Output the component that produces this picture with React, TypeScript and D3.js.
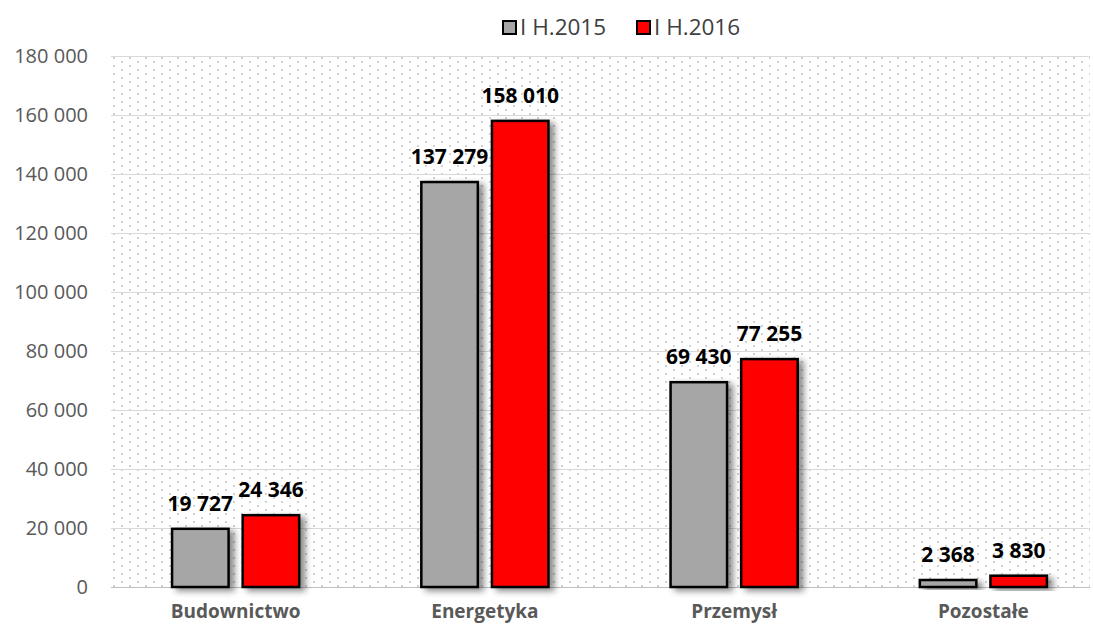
import React, { useRef, useEffect } from 'react';
import * as d3 from 'd3';

const categories = ['Budownictwo', 'Energetyka', 'Przemysł', 'Pozostałe'];
const seriesNames = ['I H.2015', 'I H.2016'];
const values2015 = [19727, 137279, 69430, 2368];
const values2016 = [24346, 158010, 77255, 3830];
const yTicks = [0, 20000, 40000, 60000, 80000, 100000, 120000, 140000, 160000, 180000];
const colors = ['#a6a6a6', '#ff0000'];

const W = 1094;
const H = 628;
const FONT = '"Open Sans", "Noto Sans", sans-serif';

const Chart: React.FC = () => {
  const svgRef = useRef<SVGSVGElement | null>(null);

  useEffect(() => {
    const svg = d3.select(svgRef.current);
    svg.selectAll('*').remove();

    const fmt = d3.formatLocale({ decimal: ',', thousands: ' ', grouping: [3], currency: ['', ''] }).format(',d');

    const plotLeft = 111;
    const plotRight = 1090;
    const y = d3.scaleLinear().domain([0, 180000]).range([587, 56]);
    const x0 = d3.scaleBand<string>().domain(categories).range([plotLeft, 1108]).paddingInner(0.49).paddingOuter(0.245);
    const x1 = d3.scaleBand<string>().domain(seriesNames).range([0, x0.bandwidth()]).paddingInner(0.2);

    const defs = svg.append('defs');
    const pat = defs.append('pattern').attr('id', 'dots').attr('patternUnits', 'userSpaceOnUse')
      .attr('width', 16).attr('height', 8);
    pat.append('circle').attr('cx', 2).attr('cy', 2).attr('r', 0.9).attr('fill', '#bdbdbd');
    pat.append('circle').attr('cx', 10).attr('cy', 6).attr('r', 0.9).attr('fill', '#bdbdbd');

    const shadow = defs.append('filter').attr('id', 'shadow').attr('x', '-20%').attr('y', '-20%')
      .attr('width', '150%').attr('height', '150%');
    shadow.append('feDropShadow').attr('dx', 5).attr('dy', 3).attr('stdDeviation', 3)
      .attr('flood-color', '#000').attr('flood-opacity', 0.45);

    svg.append('rect').attr('x', plotLeft).attr('y', y(180000)).attr('width', plotRight - plotLeft)
      .attr('height', y(0) - y(180000)).attr('fill', 'url(#dots)');

    // grid
    svg.append('g').selectAll('line').data(yTicks).enter().append('line')
      .attr('x1', plotLeft).attr('x2', plotRight)
      .attr('y1', d => y(d) + 0.5).attr('y2', d => y(d) + 0.5)
      .attr('stroke', d => (d === 0 ? '#bfbfbf' : '#d9d9d9')).attr('stroke-width', 1);

    // y labels
    svg.append('g').selectAll('text').data(yTicks).enter().append('text')
      .attr('x', 88).attr('y', d => y(d)).attr('dy', '0.35em').attr('text-anchor', 'end')
      .attr('font-family', FONT).attr('font-size', 20).attr('fill', '#595959')
      .text(d => fmt(d));

    const data = categories.map((c, i) => ({ cat: c, vals: [values2015[i], values2016[i]] }));

    const groups = svg.append('g').selectAll('g').data(data).enter().append('g')
      .attr('transform', d => `translate(${x0(d.cat)},0)`);

    groups.selectAll('rect').data(d => d.vals.map((v, j) => ({ v, s: seriesNames[j], j }))).enter()
      .append('rect')
      .attr('x', d => x1(d.s)!)
      .attr('y', d => y(d.v))
      .attr('width', x1.bandwidth())
      .attr('height', d => y(0) - y(d.v))
      .attr('fill', d => colors[d.j])
      .attr('stroke', '#000').attr('stroke-width', 2.5)
      .attr('filter', 'url(#shadow)');

    groups.selectAll('text').data(d => d.vals.map((v, j) => ({ v, s: seriesNames[j], j }))).enter()
      .append('text')
      .attr('x', d => x1(d.s)! + x1.bandwidth() / 2)
      .attr('y', d => y(d.v) - 18)
      .attr('text-anchor', 'middle')
      .attr('font-family', FONT).attr('font-weight', 'bold').attr('font-size', 21).attr('fill', '#000')
      .text(d => fmt(d.v));

    // x labels
    svg.append('g').selectAll('text').data(categories).enter().append('text')
      .attr('x', d => x0(d)! + x0.bandwidth() / 2).attr('y', 618).attr('text-anchor', 'middle')
      .attr('font-family', FONT).attr('font-weight', 'bold').attr('font-size', 19).attr('fill', '#595959')
      .text(d => d);

    // legend
    const legendX = [503, 637];
    const legend = svg.append('g').selectAll('g').data(seriesNames).enter().append('g')
      .attr('transform', (d, i) => `translate(${legendX[i]},21)`);
    legend.append('rect').attr('width', 13).attr('height', 13).attr('fill', (d, i) => colors[i])
      .attr('stroke', '#000').attr('stroke-width', 2);
    legend.append('text').attr('x', 17).attr('y', 6.5).attr('dy', '0.35em')
      .attr('font-family', FONT).attr('font-size', 22.5).attr('fill', '#404040').text(d => d);
  }, []);

  return (
    <svg ref={svgRef} width={W} height={H}
      style={{ display: 'block', position: 'absolute', top: 0, left: 0 }}></svg>
  );
};

export default function App() {
  return <Chart />;
}
